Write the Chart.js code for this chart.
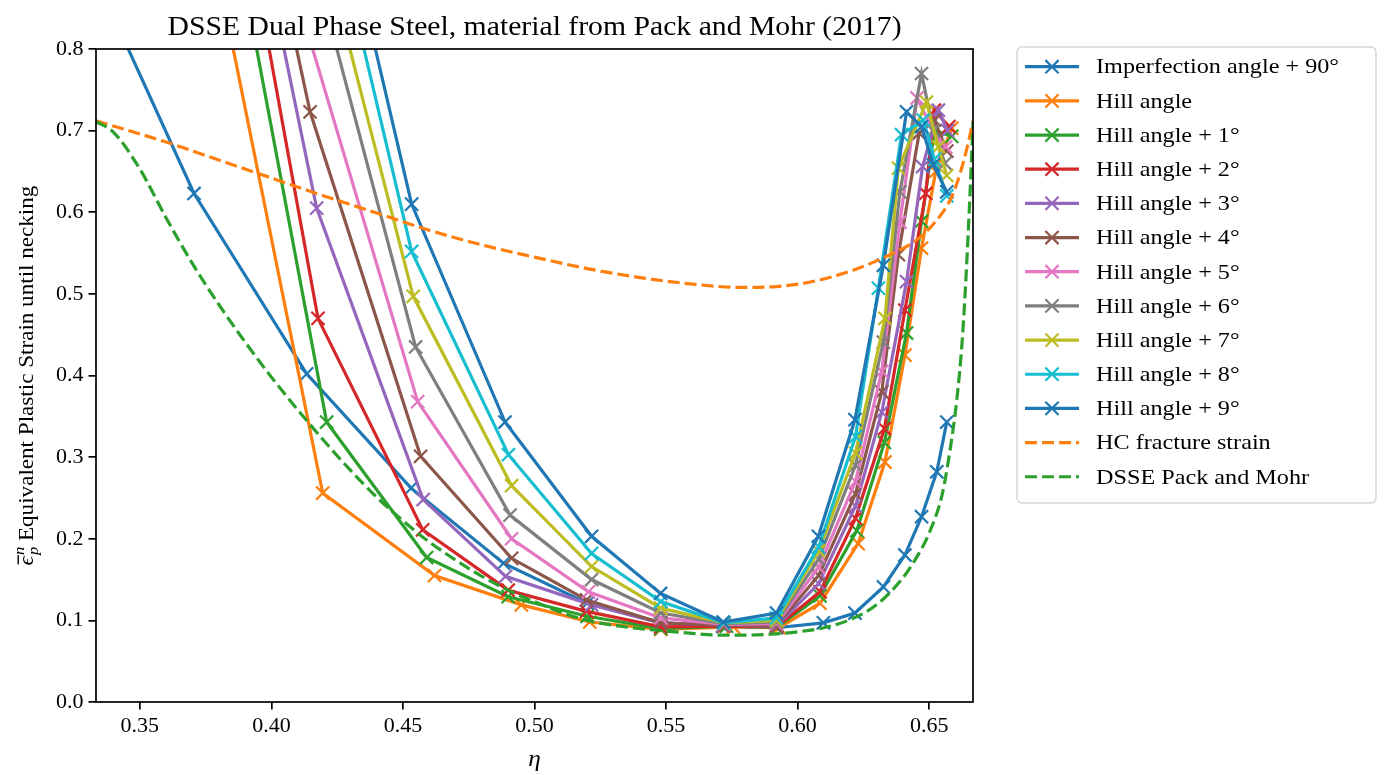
<!DOCTYPE html>
<html>
<head>
<meta charset="utf-8">
<title>DSSE Dual Phase Steel</title>
<script src="https://cdn.jsdelivr.net/npm/chart.js@4.4.0/dist/chart.umd.min.js"></script>
<style>
  html, body { margin: 0; padding: 0; background: #fff; }
  #wrap { width: 1385px; height: 775px; }
</style>
</head>
<body>
<div id="wrap"><canvas id="chart" width="1385" height="775"></canvas></div>
<script>
// Necking strain vs. stress triaxiality (eta), one curve per imperfection angle

const xTicks = [0.35, 0.40, 0.45, 0.50, 0.55, 0.60, 0.65];
const yTicks = [0.0, 0.1, 0.2, 0.3, 0.4, 0.5, 0.6, 0.7, 0.8];

const seriesLabels = [
    'Imperfection angle + 90°',
    'Hill angle',
    'Hill angle + 1°',
    'Hill angle + 2°',
    'Hill angle + 3°',
    'Hill angle + 4°',
    'Hill angle + 5°',
    'Hill angle + 6°',
    'Hill angle + 7°',
    'Hill angle + 8°',
    'Hill angle + 9°',
    'HC fracture strain',
    'DSSE Pack and Mohr'
];

const etaImp90 = [0.3333, 0.3706, 0.4134, 0.4531, 0.4882, 0.5200, 0.5480, 0.5715, 0.5920, 0.6098, 0.6218, 0.6326, 0.6408, 0.6471, 0.6529, 0.6567];
const epsImp90 = [0.887, 0.623, 0.402, 0.262, 0.170, 0.121, 0.097, 0.093, 0.091, 0.097, 0.109, 0.141, 0.180, 0.227, 0.282, 0.343];

const etaHill0 = [0.3333, 0.4195, 0.4620, 0.4950, 0.5210, 0.5480, 0.5756, 0.5930, 0.6085, 0.6230, 0.6332, 0.6408, 0.6471, 0.6525, 0.6586];
const epsHill0 = [1.635, 0.256, 0.155, 0.119, 0.098, 0.089, 0.092, 0.091, 0.121, 0.194, 0.294, 0.425, 0.556, 0.650, 0.703];

const etaHill1 = [0.3333, 0.4210, 0.4590, 0.4900, 0.5200, 0.5480, 0.5730, 0.5920, 0.6085, 0.6225, 0.6330, 0.6414, 0.6471, 0.6520, 0.6586];
const epsHill1 = [1.850, 0.343, 0.177, 0.129, 0.105, 0.090, 0.093, 0.091, 0.130, 0.210, 0.318, 0.452, 0.589, 0.700, 0.693];

const etaHill2 = [0.3333, 0.4177, 0.4575, 0.4900, 0.5198, 0.5480, 0.5720, 0.5920, 0.6085, 0.6220, 0.6330, 0.6408, 0.6487, 0.6520, 0.6575];
const epsHill2 = [1.970, 0.470, 0.211, 0.137, 0.111, 0.092, 0.093, 0.092, 0.135, 0.225, 0.335, 0.480, 0.623, 0.725, 0.705];

const etaHill3 = [0.3333, 0.4172, 0.4577, 0.4890, 0.5217, 0.5480, 0.5720, 0.5920, 0.6080, 0.6220, 0.6320, 0.6414, 0.6475, 0.6535, 0.6570];
const epsHill3 = [1.922, 0.605, 0.248, 0.154, 0.119, 0.097, 0.094, 0.093, 0.145, 0.240, 0.355, 0.515, 0.656, 0.725, 0.700];

const etaHill4 = [0.3333, 0.4147, 0.4567, 0.4913, 0.5198, 0.5480, 0.5720, 0.5920, 0.6080, 0.6220, 0.6320, 0.6383, 0.6462, 0.6520, 0.6567];
const epsHill4 = [1.945, 0.723, 0.301, 0.176, 0.125, 0.097, 0.094, 0.094, 0.155, 0.255, 0.380, 0.548, 0.697, 0.713, 0.675];

const etaHill5 = [0.4130, 0.4556, 0.4913, 0.5205, 0.5480, 0.5720, 0.5920, 0.6080, 0.6220, 0.6320, 0.6389, 0.6454, 0.6515, 0.6563];
const epsHill5 = [0.829, 0.368, 0.200, 0.135, 0.103, 0.095, 0.096, 0.165, 0.270, 0.405, 0.588, 0.740, 0.700, 0.680];

const etaHill6 = [0.4120, 0.4548, 0.4907, 0.5217, 0.5480, 0.5720, 0.5920, 0.6080, 0.6220, 0.6326, 0.6389, 0.6471, 0.6516, 0.6560];
const epsHill6 = [0.957, 0.435, 0.229, 0.150, 0.109, 0.096, 0.098, 0.175, 0.290, 0.441, 0.625, 0.770, 0.700, 0.660];

const etaHill7 = [0.4110, 0.4539, 0.4913, 0.5217, 0.5480, 0.5720, 0.5920, 0.6080, 0.6220, 0.6332, 0.6383, 0.6490, 0.6535, 0.6567];
const epsHill7 = [1.037, 0.497, 0.265, 0.166, 0.115, 0.097, 0.100, 0.185, 0.305, 0.470, 0.654, 0.735, 0.680, 0.645];

const etaHill8 = [0.4100, 0.4533, 0.4901, 0.5217, 0.5480, 0.5720, 0.5920, 0.6080, 0.6220, 0.6307, 0.6395, 0.6478, 0.6520, 0.6567];
const epsHill8 = [1.145, 0.552, 0.303, 0.182, 0.123, 0.097, 0.103, 0.190, 0.325, 0.507, 0.695, 0.713, 0.665, 0.620];

const etaHill9 = [0.4100, 0.4533, 0.4888, 0.5217, 0.5479, 0.5717, 0.5920, 0.6079, 0.6218, 0.6326, 0.6414, 0.6471, 0.6516, 0.6567];
const epsHill9 = [1.207, 0.610, 0.343, 0.203, 0.133, 0.098, 0.109, 0.203, 0.346, 0.535, 0.723, 0.705, 0.658, 0.625];

const etaHC = [0.3333, 0.3600, 0.3800, 0.4000, 0.4200, 0.4400, 0.4600, 0.4800, 0.5000, 0.5200, 0.5400, 0.5600, 0.5780, 0.5920, 0.6070, 0.6211, 0.6338, 0.6452, 0.6528, 0.6586, 0.6618, 0.6645, 0.6667];
const epsHC = [0.712, 0.686, 0.664, 0.642, 0.620, 0.599, 0.578, 0.560, 0.545, 0.531, 0.520, 0.512, 0.508, 0.509, 0.516, 0.529, 0.546, 0.566, 0.590, 0.619, 0.648, 0.680, 0.712];

const etaDSSE = [0.3333, 0.3400, 0.3500, 0.3600, 0.3700, 0.3800, 0.3900, 0.4000, 0.4100, 0.4200, 0.4300, 0.4400, 0.4500, 0.4600, 0.4700, 0.4800, 0.4900, 0.5000, 0.5100, 0.5200, 0.5300, 0.5400, 0.5500, 0.5600, 0.5700, 0.5800, 0.5900, 0.6000, 0.6100, 0.6200, 0.6300, 0.6400, 0.6450, 0.6500, 0.6550, 0.6580, 0.6605, 0.6625, 0.6640, 0.6655, 0.6667];
const epsDSSE = [0.711, 0.698, 0.653, 0.593, 0.537, 0.487, 0.441, 0.398, 0.358, 0.320, 0.284, 0.251, 0.222, 0.196, 0.174, 0.154, 0.137, 0.123, 0.110, 0.100, 0.094, 0.090, 0.087, 0.084, 0.082, 0.082, 0.083, 0.086, 0.091, 0.101, 0.119, 0.152, 0.176, 0.207, 0.255, 0.310, 0.370, 0.440, 0.520, 0.620, 0.711];

const seriesData = [
    [etaImp90, epsImp90],
    [etaHill0, epsHill0], [etaHill1, epsHill1], [etaHill2, epsHill2], [etaHill3, epsHill3],
    [etaHill4, epsHill4], [etaHill5, epsHill5], [etaHill6, epsHill6], [etaHill7, epsHill7],
    [etaHill8, epsHill8], [etaHill9, epsHill9],
    [etaHC, epsHC],
    [etaDSSE, epsDSSE]
];

// matplotlib tab10 cycle
const tab10 = ['#1f77b4', '#ff7f0e', '#2ca02c', '#d62728', '#9467bd', '#8c564b', '#e377c2', '#7f7f7f', '#bcbd22', '#17becf'];
const SERIF = '"Liberation Serif", "DejaVu Serif", serif';
const STRETCH = 1.1;   // widen Times-like glyphs towards Computer Modern proportions
const DASH = [12, 5];
const LINE_W = 3.2;

function toPoints(xs, ys) {
    return xs.map((x, i) => ({ x: x, y: ys[i] }));
}

const datasets = seriesData.map(([xs, ys], i) => {
    const dashed = i >= 11;
    const color = dashed ? (i === 11 ? tab10[1] : tab10[2]) : tab10[i % 10];
    return {
        label: seriesLabels[i],
        data: toPoints(xs, ys),
        borderColor: color,
        backgroundColor: color,
        borderWidth: LINE_W,
        borderDash: dashed ? DASH : [],
        pointStyle: 'crossRot',
        pointRadius: dashed ? 0 : 9.3,
        pointHoverRadius: dashed ? 0 : 9.3,
        pointBorderWidth: 2.2,
        pointBorderColor: color,
        cubicInterpolationMode: dashed ? 'monotone' : 'default',
        tension: 0,
        fill: false,
        clip: 0,
        order: seriesData.length - i,
        dashed: dashed
    };
});

function drawCross(ctx, x, y, half) {
    ctx.beginPath();
    ctx.moveTo(x - half, y - half);
    ctx.lineTo(x + half, y + half);
    ctx.moveTo(x - half, y + half);
    ctx.lineTo(x + half, y - half);
    ctx.stroke();
}

// text drawn slightly wider than the font's natural width
function stretchedText(ctx, text, x, y, font, align) {
    ctx.font = font;
    const w = ctx.measureText(text).width * STRETCH;
    let start = x;
    if (align === 'center') start = x - w / 2;
    if (align === 'right') start = x - w;
    ctx.save();
    ctx.translate(start, y);
    ctx.scale(STRETCH, 1);
    ctx.textAlign = 'left';
    ctx.fillText(text, 0, 0);
    ctx.restore();
    return w;
}

const decorations = {
    id: 'decorations',
    afterDatasetsDraw(chart) {
        const { ctx, chartArea: a } = chart;
        ctx.save();
        ctx.strokeStyle = '#000';
        ctx.lineWidth = 1.7;
        ctx.strokeRect(a.left, a.top, a.right - a.left, a.bottom - a.top);
        ctx.restore();
    },
    afterDraw(chart) {
        const { ctx, chartArea: a } = chart;
        const cx = (a.left + a.right) / 2;
        ctx.save();
        ctx.fillStyle = '#000';
        ctx.textBaseline = 'alphabetic';

        // title
        stretchedText(ctx, 'DSSE Dual Phase Steel, material from Pack and Mohr (2017)', cx, 35, '27px ' + SERIF, 'center');

        // x axis label
        stretchedText(ctx, 'η', cx, 766, 'italic 23px ' + SERIF, 'center');

        // y axis label, epsilon bar with sub p and sup n
        const cy = (a.top + a.bottom) / 2;
        ctx.translate(33, cy);
        ctx.rotate(-Math.PI / 2);
        const rest = ' Equivalent Plastic Strain until necking';
        ctx.font = 'italic 21px ' + SERIF;
        const wEps = ctx.measureText('ϵ').width * STRETCH;
        ctx.font = 'italic 15px ' + SERIF;
        const wSub = Math.max(ctx.measureText('p').width, ctx.measureText('n').width) * STRETCH;
        ctx.font = '21px ' + SERIF;
        const wRest = ctx.measureText(rest).width * STRETCH;
        const x0 = -(wEps + wSub + 1 + wRest) / 2;
        stretchedText(ctx, 'ϵ', x0, 0, 'italic 21px ' + SERIF, 'left');
        ctx.fillRect(x0 + 1, -15.5, wEps, 1.4);
        stretchedText(ctx, 'n', x0 + wEps + 1, -9, 'italic 15px ' + SERIF, 'left');
        stretchedText(ctx, 'p', x0 + wEps + 1, 5, 'italic 15px ' + SERIF, 'left');
        stretchedText(ctx, rest, x0 + wEps + wSub + 1, 0, '21px ' + SERIF, 'left');
        ctx.restore();

        // legend box
        const box = { left: 1017, top: 47, right: 1376, bottom: 503 };
        ctx.save();
        ctx.beginPath();
        ctx.roundRect(box.left, box.top, box.right - box.left, box.bottom - box.top, 5);
        ctx.fillStyle = 'rgba(255,255,255,0.8)';
        ctx.fill();
        ctx.strokeStyle = '#d6d6d6';
        ctx.lineWidth = 1.5;
        ctx.stroke();

        const rowStep = 34.17;
        chart.data.datasets.forEach((ds, i) => {
            const y = 66.7 + i * rowStep;
            ctx.strokeStyle = ds.borderColor;
            ctx.lineWidth = LINE_W;
            ctx.setLineDash(ds.dashed ? DASH : []);
            ctx.beginPath();
            ctx.moveTo(1025, y);
            ctx.lineTo(1079, y);
            ctx.stroke();
            ctx.setLineDash([]);
            if (!ds.dashed) {
                ctx.lineWidth = 2.2;
                drawCross(ctx, 1052, y, 6.6);
            }
            ctx.fillStyle = '#000';
            ctx.textBaseline = 'middle';
            stretchedText(ctx, ds.label, 1096, y + 1, '22px ' + SERIF, 'left');
        });
        ctx.restore();
    }
};

const axisFont = { family: SERIF, size: 22 };

new Chart(document.getElementById('chart'), {
    type: 'line',
    data: { datasets: datasets },
    options: {
        responsive: false,
        animation: false,
        devicePixelRatio: 1,
        layout: { padding: { top: 49, right: 412, left: 0, bottom: 0 } },
        plugins: {
            legend: { display: false },
            title: { display: false },
            tooltip: { enabled: false }
        },
        scales: {
            x: {
                type: 'linear',
                min: 1 / 3,
                max: 2 / 3,
                afterBuildTicks: (scale) => { scale.ticks = xTicks.map(v => ({ value: v })); },
                afterFit: (scale) => { scale.height = 73; },
                border: { display: false },
                grid: { drawOnChartArea: false, color: '#000', tickColor: '#000', tickLength: 7.5, tickWidth: 1.7, lineWidth: 1.7 },
                ticks: { color: '#000', font: axisFont, padding: 4, maxRotation: 0, autoSkip: false, callback: v => v.toFixed(2) }
            },
            y: {
                type: 'linear',
                min: 0,
                max: 0.8,
                afterBuildTicks: (scale) => { scale.ticks = yTicks.map(v => ({ value: v })); },
                afterFit: (scale) => { scale.width = 96; },
                border: { display: false },
                grid: { drawOnChartArea: false, color: '#000', tickColor: '#000', tickLength: 7.5, tickWidth: 1.7, lineWidth: 1.7 },
                ticks: { color: '#000', font: axisFont, padding: 5, autoSkip: false, callback: v => v.toFixed(1) }
            }
        }
    },
    plugins: [decorations]
});
</script>
</body>
</html>
